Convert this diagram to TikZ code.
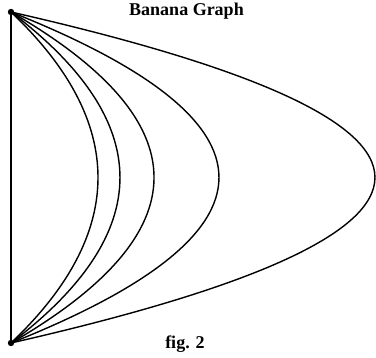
\documentclass[tikz,border=0pt]{standalone}
\usepackage{fontspec}
\setmainfont{Liberation Serif}
\begin{document}
\begin{tikzpicture}[x=1pt,y=-1pt,
  edge/.style={line width=1.4pt},
  vert/.style={fill=black},
  lbl/.style={font=\bfseries\fontsize{18}{21}\selectfont, anchor=base, inner sep=0pt}]
\useasboundingbox (0,0) rectangle (376,358);
\coordinate (a) at (11,12);
\coordinate (b) at (11,343);
\draw[edge] (a) -- (b);
\foreach \d in {116,145.3,190.7,277.3,485.3}{
  \draw[edge] (a) .. controls +(\d,110.3) and +(\d,-110.3) .. (b);
}
\fill[vert] (a) circle (3.2);
\fill[vert] (b) circle (3.2);
\node[lbl] (title) at (186.5,16) {Banana Graph};
\node[lbl] (fig) at (185,349) {fig. 2};
\end{tikzpicture}
\end{document}
